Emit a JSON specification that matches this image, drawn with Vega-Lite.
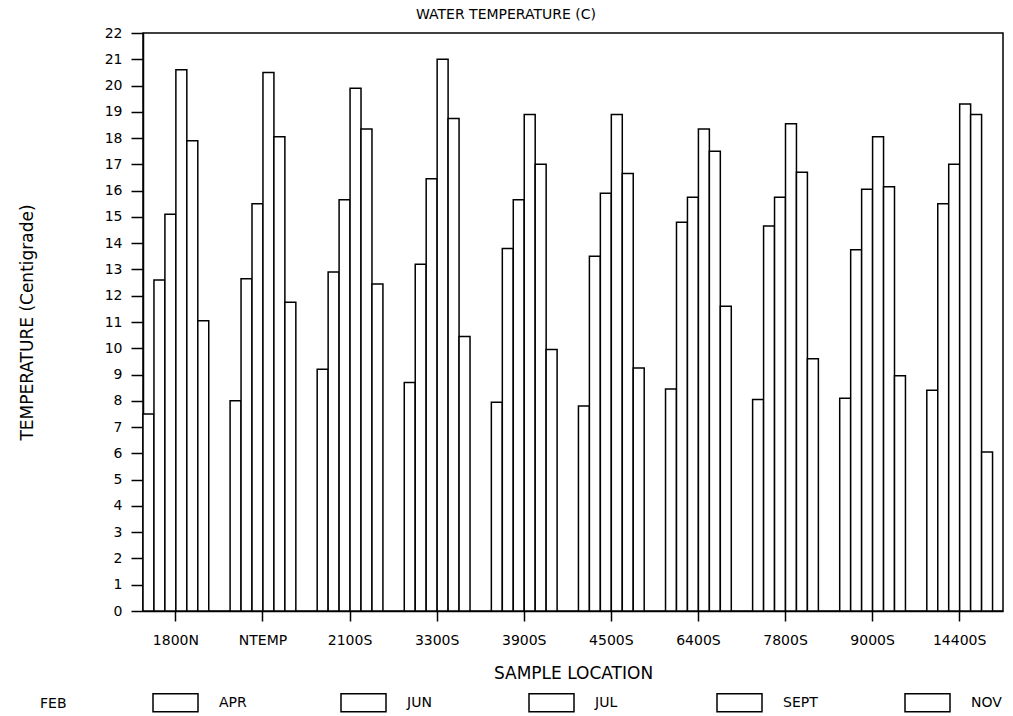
{
  "$schema": "https://vega.github.io/schema/vega-lite/v6.json",
  "autosize": {"type": "none"},
  "padding": {"left": 143, "top": 33, "right": 10, "bottom": 105},
  "width": 860,
  "height": 578,
  "background": "white",
  "title": {
    "text": "WATER TEMPERATURE (C)",
    "anchor": "middle",
    "dx": -67,
    "offset": 4,
    "font": "DejaVu Sans",
    "fontSize": 14,
    "fontWeight": "normal",
    "color": "black"
  },
  "config": {
    "font": "DejaVu Sans",
    "view": {"stroke": "black", "strokeWidth": 1.5},
    "axis": {
      "domainColor": "black",
      "domainWidth": 1.5,
      "tickColor": "black",
      "tickWidth": 1.5,
      "labelColor": "black",
      "titleColor": "black",
      "labelFont": "DejaVu Sans",
      "titleFont": "DejaVu Sans",
      "labelFontSize": 14,
      "titleFontSize": 17,
      "titleFontWeight": "normal",
      "grid": false
    }
  },
  "data": {
    "values": [
      {"location": "1800N", "month": "FEB", "temp": 7.5},
      {"location": "1800N", "month": "APR", "temp": 12.6},
      {"location": "1800N", "month": "JUN", "temp": 15.1},
      {"location": "1800N", "month": "JUL", "temp": 20.6},
      {"location": "1800N", "month": "SEPT", "temp": 17.9},
      {"location": "1800N", "month": "NOV", "temp": 11.05},
      {"location": "NTEMP", "month": "FEB", "temp": 8.0},
      {"location": "NTEMP", "month": "APR", "temp": 12.65},
      {"location": "NTEMP", "month": "JUN", "temp": 15.5},
      {"location": "NTEMP", "month": "JUL", "temp": 20.5},
      {"location": "NTEMP", "month": "SEPT", "temp": 18.05},
      {"location": "NTEMP", "month": "NOV", "temp": 11.75},
      {"location": "2100S", "month": "FEB", "temp": 9.2},
      {"location": "2100S", "month": "APR", "temp": 12.9},
      {"location": "2100S", "month": "JUN", "temp": 15.65},
      {"location": "2100S", "month": "JUL", "temp": 19.9},
      {"location": "2100S", "month": "SEPT", "temp": 18.35},
      {"location": "2100S", "month": "NOV", "temp": 12.45},
      {"location": "3300S", "month": "FEB", "temp": 8.7},
      {"location": "3300S", "month": "APR", "temp": 13.2},
      {"location": "3300S", "month": "JUN", "temp": 16.45},
      {"location": "3300S", "month": "JUL", "temp": 21.0},
      {"location": "3300S", "month": "SEPT", "temp": 18.75},
      {"location": "3300S", "month": "NOV", "temp": 10.45},
      {"location": "3900S", "month": "FEB", "temp": 7.95},
      {"location": "3900S", "month": "APR", "temp": 13.8},
      {"location": "3900S", "month": "JUN", "temp": 15.65},
      {"location": "3900S", "month": "JUL", "temp": 18.9},
      {"location": "3900S", "month": "SEPT", "temp": 17.0},
      {"location": "3900S", "month": "NOV", "temp": 9.95},
      {"location": "4500S", "month": "FEB", "temp": 7.8},
      {"location": "4500S", "month": "APR", "temp": 13.5},
      {"location": "4500S", "month": "JUN", "temp": 15.9},
      {"location": "4500S", "month": "JUL", "temp": 18.9},
      {"location": "4500S", "month": "SEPT", "temp": 16.65},
      {"location": "4500S", "month": "NOV", "temp": 9.25},
      {"location": "6400S", "month": "FEB", "temp": 8.45},
      {"location": "6400S", "month": "APR", "temp": 14.8},
      {"location": "6400S", "month": "JUN", "temp": 15.75},
      {"location": "6400S", "month": "JUL", "temp": 18.35},
      {"location": "6400S", "month": "SEPT", "temp": 17.5},
      {"location": "6400S", "month": "NOV", "temp": 11.6},
      {"location": "7800S", "month": "FEB", "temp": 8.05},
      {"location": "7800S", "month": "APR", "temp": 14.65},
      {"location": "7800S", "month": "JUN", "temp": 15.75},
      {"location": "7800S", "month": "JUL", "temp": 18.55},
      {"location": "7800S", "month": "SEPT", "temp": 16.7},
      {"location": "7800S", "month": "NOV", "temp": 9.6},
      {"location": "9000S", "month": "FEB", "temp": 8.1},
      {"location": "9000S", "month": "APR", "temp": 13.75},
      {"location": "9000S", "month": "JUN", "temp": 16.05},
      {"location": "9000S", "month": "JUL", "temp": 18.05},
      {"location": "9000S", "month": "SEPT", "temp": 16.15},
      {"location": "9000S", "month": "NOV", "temp": 8.95},
      {"location": "14400S", "month": "FEB", "temp": 8.4},
      {"location": "14400S", "month": "APR", "temp": 15.5},
      {"location": "14400S", "month": "JUN", "temp": 17.0},
      {"location": "14400S", "month": "JUL", "temp": 19.3},
      {"location": "14400S", "month": "SEPT", "temp": 18.9},
      {"location": "14400S", "month": "NOV", "temp": 6.05}
    ]
  },
  "mark": {"type": "bar", "stroke": "black", "strokeWidth": 1.5, "fill": "white"},
  "encoding": {
    "x": {
      "field": "location",
      "type": "nominal",
      "sort": ["1800N", "NTEMP", "2100S", "3300S", "3900S", "4500S", "6400S", "7800S", "9000S", "14400S"],
      "scale": {"paddingInner": 0.245, "paddingOuter": 0.06, "align": 0},
      "axis": {
        "title": "SAMPLE LOCATION",
        "labelAngle": 0,
        "tickSize": 10,
        "labelPadding": 12,
        "titlePadding": 18
      }
    },
    "xOffset": {
      "field": "month",
      "type": "nominal",
      "sort": ["FEB", "APR", "JUN", "JUL", "SEPT", "NOV"],
      "scale": {"paddingInner": 0, "paddingOuter": 0}
    },
    "y": {
      "field": "temp",
      "type": "quantitative",
      "scale": {"domain": [0, 22], "nice": false},
      "axis": {
        "title": "TEMPERATURE (Centigrade)",
        "values": [0, 1, 2, 3, 4, 5, 6, 7, 8, 9, 10, 11, 12, 13, 14, 15, 16, 17, 18, 19, 20, 21, 22],
        "tickSize": 12,
        "labelPadding": 9,
        "titlePadding": 68
      }
    },
    "stroke": {
      "field": "month",
      "type": "nominal",
      "sort": ["FEB", "APR", "JUN", "JUL", "SEPT", "NOV"],
      "scale": {"range": ["black", "black", "black", "black", "black", "black"]},
      "legend": {
        "title": "FEB",
        "titleOrient": "left",
        "titleFont": "DejaVu Sans",
        "titleFontSize": 14,
        "titleFontWeight": "normal",
        "titleColor": "black",
        "titleBaseline": "top",
        "titleAnchor": "middle",
        "titlePadding": 85,
        "values": ["APR", "JUN", "JUL", "SEPT", "NOV"],
        "orient": "none",
        "legendX": -103,
        "legendY": 646,
        "direction": "horizontal",
        "columns": 5,
        "gridAlign": "all",
        "columnPadding": 84,
        "symbolType": "M-1,-0.4H1V0.4H-1Z",
        "symbolSize": 2025,
        "symbolFillColor": "white",
        "symbolStrokeWidth": 1.5,
        "labelOffset": 20,
        "labelFontSize": 14,
        "labelColor": "black",
        "labelFont": "DejaVu Sans"
      }
    }
  }
}
